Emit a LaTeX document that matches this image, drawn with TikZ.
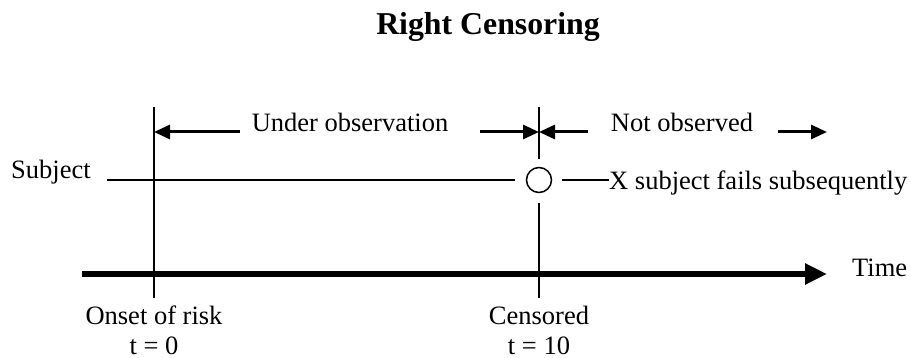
\documentclass[tikz,border=0pt]{standalone}
\usepackage{fontspec}
\setmainfont{Liberation Serif}
\usetikzlibrary{arrows.meta}
\tikzset{
  lbl/.style={inner sep=0pt, font=\fontsize{26.5}{29}\selectfont},
  thin line/.style={line width=1.5pt},
  dimarrow/.style={line width=3pt, -{Triangle[length=16pt,width=14pt]}},
  axisarrow/.style={line width=5.5pt, -{Triangle[length=22pt,width=20pt]}},
}
\begin{document}
\begin{tikzpicture}[x=1pt,y=-1pt]
\useasboundingbox (0,0) rectangle (911,358);
% title
\node[inner sep=0pt, anchor=base, font=\fontsize{31.8}{34}\selectfont\bfseries] (title) at (488,35) {Right Censoring};
% key coordinates
\coordinate (ltop) at (154,107);
\coordinate (lbot) at (154,298);
\coordinate (rtop) at (539,107);
\coordinate (rbot) at (539,298);
\node[circle, draw, thin line, minimum size=25pt, inner sep=0pt] (circ) at (539,180) {};
% vertical lines
\draw[thin line] (ltop) -- (lbot);
\draw[thin line] (rtop) -- ([yshift=8pt]circ.north);
\draw[thin line] ([yshift=-10pt]circ.south) -- (rbot);
% subject line
\coordinate (s0) at (107,180);
\coordinate (s1) at (515,180);
\coordinate (s2) at (562,180);
\node[lbl, anchor=base west] (fail) at (609,190) {X subject fails subsequently};
\draw[thin line] (s0) -- (s1);
\draw[thin line] (s2) -- (fail.west |- s2);
\node[lbl, anchor=base west] (subj) at (11,179) {Subject};
% top row arrows
\coordinate (a1) at (240,132);
\coordinate (a1t) at (154,132);
\coordinate (a2) at (480,132);
\coordinate (a2t) at (539,132);
\coordinate (a3) at (588,132);
\coordinate (a4) at (778,132);
\coordinate (a4t) at (827,132);
\draw[dimarrow] (a1) -- (a1t);
\draw[dimarrow] (a2) -- (a2t);
\draw[dimarrow] (a3) -- (a2t);
\draw[dimarrow] (a4) -- (a4t);
\node[lbl, anchor=base] (under) at (350,132) {Under observation};
\node[lbl, anchor=base] (notobs) at (682,132) {Not observed};
% time axis
\coordinate (t0) at (82,274);
\coordinate (t1) at (827,274);
\draw[axisarrow] (t0) -- (t1);
\node[lbl, anchor=base west] (time) at (852,277) {Time};
% bottom labels
\node[lbl, anchor=base] (onset) at (154,325) {Onset of risk};
\node[lbl, anchor=base] (tzero) at (154,354) {t = 0};
\node[lbl, anchor=base] (cens) at (539,325) {Censored};
\node[lbl, anchor=base] (tten) at (539,354) {t = 10};
\end{tikzpicture}
\end{document}
